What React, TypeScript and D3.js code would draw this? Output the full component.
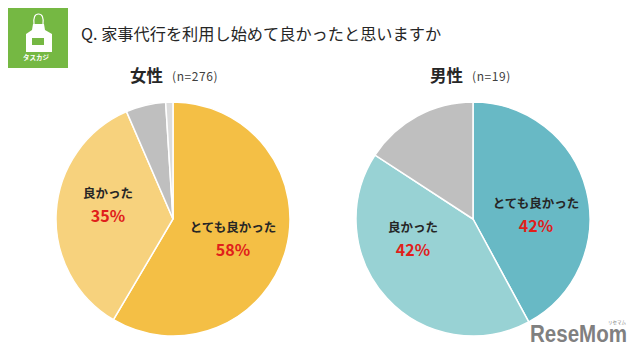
import React from "react";
import * as d3 from "d3";

const femaleLabels = ["とても良かった", "良かった", "あまり良くなかった", "良くなかった"];
const femaleValues = [58.5, 35, 5.5, 1];
const femaleColors = ["#f4bf45", "#f7d27d", "#bfbfbf", "#dcdcdc"];
const maleLabels = ["とても良かった", "良かった", "あまり良くなかった"];
const maleValues = [42.1, 42.1, 15.8];
const maleColors = ["#68b9c5", "#98d2d4", "#bfbfbf"];

const FONT = "'Noto Sans CJK JP','Noto Sans',sans-serif";
const R = 117;

function Pie({ cx, cy, values, colors, labels }: { cx: number; cy: number; values: number[]; colors: string[]; labels: string[] }) {
  const arcs = d3.pie<number>().sort(null)(values);
  const arc = d3.arc<d3.PieArcDatum<number>>().innerRadius(0).outerRadius(R);
  return (
    <g transform={`translate(${cx},${cy})`}>
      {arcs.map((a, i) => (
        <path key={i} d={arc(a) ?? ""} fill={colors[i]} stroke="#fff" strokeWidth={1.5} data-label={labels[i]} />
      ))}
    </g>
  );
}

function Label({ x, y, name, pct }: { x: number; y: number; name: string; pct: string }) {
  return (
    <g textAnchor="middle" fontFamily={FONT}>
      <text x={x} y={y} fontSize={12.500} fontWeight={700} fill="#262626">{name}</text>
      <text x={x} y={y + 24} fontSize={16} fontWeight={700} fill="#e0201b">{pct}</text>
    </g>
  );
}

export default function App() {
  return (
    <svg width={640} height={357} viewBox="0 0 640 357" style={{ position: "absolute", left: 0, top: 0, background: "#fff" }}>
      {/* logo */}
      <rect x={8} y={8} width={60} height={60} fill="#75b843" />
      <path d="M34 24 Q33 14 38.500 14 Q44 14 43 24" fill="none" stroke="#fff" strokeWidth={1.2} />
      <path d="M33 24 L44 24 L45 30 L52 34 L52 52 L26 52 L26 34 L32 30 Z" fill="#fff" />
      <rect x={32} y={38} width={12} height={7} fill="#75b843" />
      <text x={36} y={59.500} textAnchor="middle" fontFamily={FONT} fontSize={6.500} fontWeight={700} fill="#fff">タスカジ</text>

      <text x={81} y={40} fontFamily={FONT} fontSize={16.200} fill="#262626">Q. 家事代行を利用し始めて良かったと思いますか</text>

      <text x={130} y={82} fontFamily={FONT} fontSize={16.500} fontWeight={700} fill="#262626">女性</text>
      <text x={172} y={81} fontFamily={FONT} fontSize={12} letterSpacing={0.6} fill="#404040">(n=276)</text>
      <text x={430} y={82} fontFamily={FONT} fontSize={16.500} fontWeight={700} fill="#262626">男性</text>
      <text x={472} y={81} fontFamily={FONT} fontSize={12} letterSpacing={0.6} fill="#404040">(n=19)</text>

      <Pie cx={173} cy={219} values={femaleValues} colors={femaleColors} labels={femaleLabels} />
      <Pie cx={473} cy={219} values={maleValues} colors={maleColors} labels={maleLabels} />

      <Label x={233} y={232} name="とても良かった" pct="58%" />
      <Label x={108} y={198} name="良かった" pct="35%" />
      <Label x={536} y={208} name="とても良かった" pct="42%" />
      <Label x={413} y={232} name="良かった" pct="42%" />

      {/* watermark */}
      <text x={530} y={342} fontFamily="'Liberation Sans',sans-serif" fontSize={23} fontWeight={700} fill="#808080" textLength={97} lengthAdjust="spacingAndGlyphs">ReseMom</text>
      <text x={617} y={323.500} textAnchor="middle" fontFamily={FONT} fontSize={4.500} fill="#808080">リセマム</text>
    </svg>
  );
}
